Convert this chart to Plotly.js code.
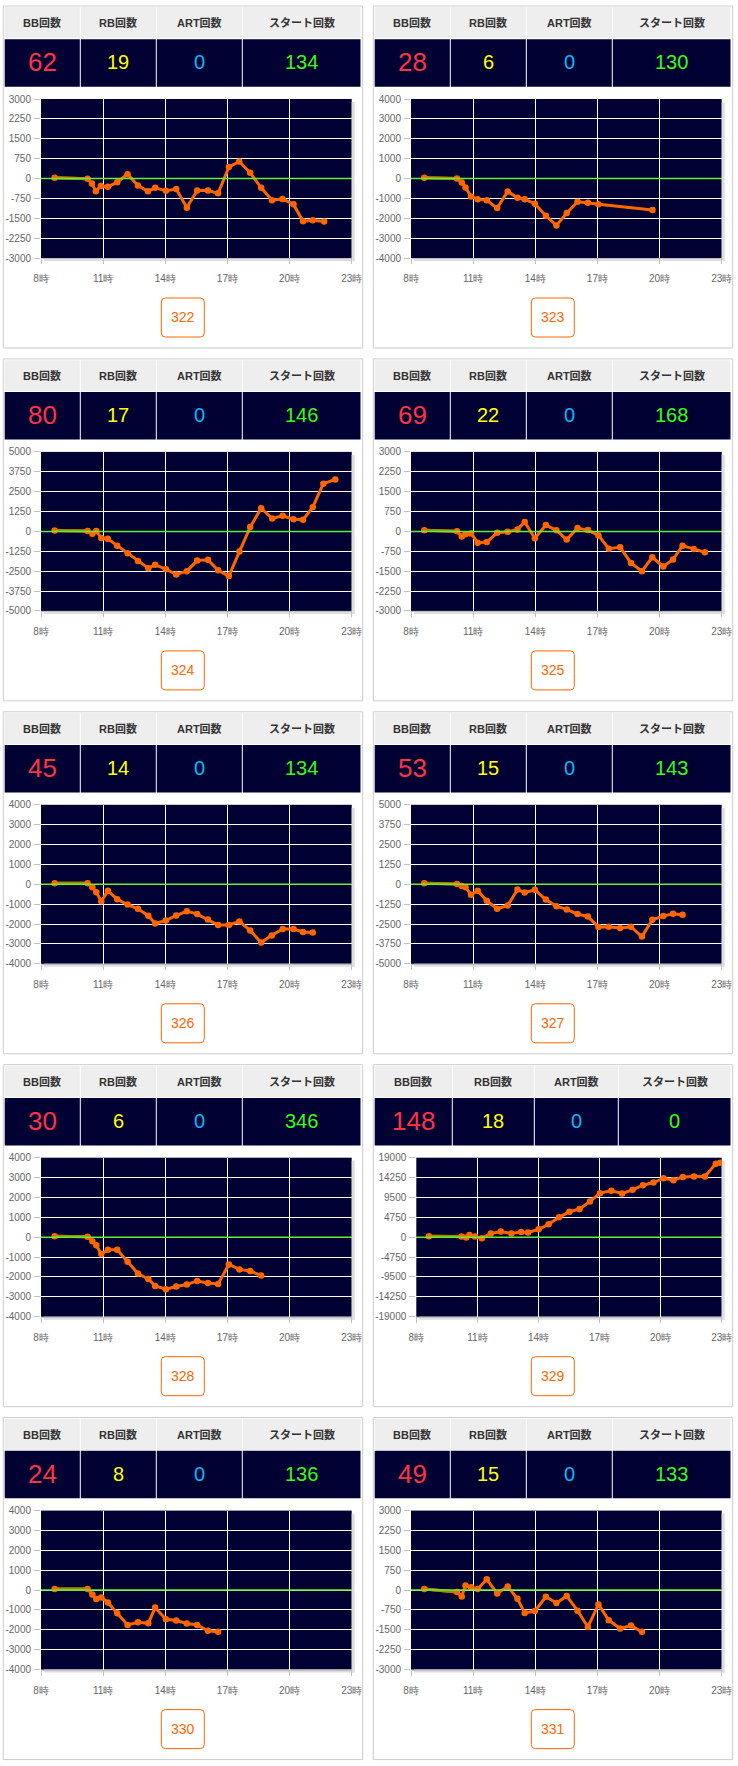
<!DOCTYPE html>
<html><head><meta charset="utf-8">
<script src="https://cdn.plot.ly/plotly-3.0.1.min.js"></script>
<style>html,body{margin:0;padding:0;background:#fff;}#chart{width:738px;height:1766px;}</style>
</head><body><div id="chart"></div>
<script>
// ---------- data ----------
const machineNos = [322, 323, 324, 325, 326, 327, 328, 329, 330, 331];
const bbCounts = [62, 28, 80, 69, 45, 53, 30, 148, 24, 49];
const rbCounts = [19, 6, 17, 22, 14, 15, 6, 18, 8, 15];
const artCounts = [0, 0, 0, 0, 0, 0, 0, 0, 0, 0];
const startCounts = [134, 130, 146, 168, 134, 143, 346, 0, 136, 133];
const headerLabels = ['BB回数', 'RB回数', 'ART回数', 'スタート回数'];
const xTickVals = [8, 11, 14, 17, 20, 23];
const xTickLabels = ['8時', '11時', '14時', '17時', '20時', '23時'];
const yMax = [3000, 4000, 5000, 3000, 4000, 5000, 4000, 19000, 4000, 3000];

const hours322 = [8.66,10.25,10.46,10.65,10.89,11.23,11.68,12.18,12.68,13.16,13.51,14.03,14.53,15.04,15.54,16.06,16.55,17.07,17.57,18.10,18.63,19.15,19.66,20.19,20.65,21.12,21.67];
const diff322 = [30,-10,-190,-480,-280,-315,-140,165,-265,-480,-350,-465,-400,-1100,-455,-455,-555,430,640,215,-350,-820,-770,-970,-1615,-1575,-1625];
const hours323 = [8.64,10.22,10.45,10.63,10.90,11.22,11.66,12.16,12.67,13.14,13.49,13.98,14.51,15.02,15.52,16.04,16.54,17.05,19.66];
const diff323 = [35,0,-200,-450,-900,-1050,-1100,-1490,-650,-970,-1040,-1270,-1875,-2360,-1740,-1170,-1220,-1290,-1590];
const hours324 = [8.66,10.25,10.48,10.67,10.91,11.22,11.68,12.18,12.68,13.18,13.51,14.03,14.53,15.04,15.54,16.06,16.55,17.07,17.58,18.10,18.63,19.16,19.67,20.19,20.65,21.12,21.63,22.21];
const diff324 = [60,20,-145,20,-415,-460,-895,-1375,-1855,-2310,-2100,-2375,-2710,-2500,-1835,-1790,-2440,-2810,-1270,270,1460,810,980,770,730,1520,3000,3270];
const hours325 = [8.64,10.22,10.45,10.63,10.90,11.22,11.66,12.16,12.67,13.14,13.49,13.98,14.51,15.02,15.52,16.04,16.54,17.05,17.55,18.10,18.62,19.15,19.65,20.18,20.65,21.11,21.65,22.19];
const diff325 = [40,10,-190,-110,-75,-425,-400,-50,-15,75,350,-260,240,40,-310,125,50,-150,-650,-600,-1190,-1500,-975,-1325,-1060,-540,-660,-790];
const hours326 = [8.66,10.25,10.48,10.67,10.91,11.23,11.68,12.18,12.68,13.18,13.51,14.03,14.53,15.04,15.54,16.06,16.55,17.07,17.58,18.10,18.63,19.14,19.67,20.19,20.65,21.12];
const diff326 = [50,50,-150,-400,-850,-330,-750,-1020,-1230,-1580,-1970,-1820,-1570,-1350,-1500,-1770,-2050,-2050,-1870,-2330,-2930,-2570,-2250,-2250,-2400,-2420];
const hours327 = [8.64,10.22,10.45,10.63,10.90,11.22,11.66,12.16,12.67,13.14,13.49,13.98,14.51,15.02,15.52,16.04,16.54,17.05,17.55,18.10,18.62,19.15,19.65,20.18,20.65,21.11];
const diff327 = [60,20,-100,-190,-650,-400,-1040,-1540,-1330,-330,-520,-350,-960,-1375,-1580,-1875,-2020,-2690,-2670,-2750,-2670,-3290,-2230,-2000,-1850,-1920];
const hours328 = [8.66,10.25,10.48,10.67,10.91,11.23,11.68,12.18,12.68,13.18,13.51,14.03,14.53,15.04,15.54,16.06,16.55,17.07,17.58,18.10,18.63];
const diff328 = [50,20,-200,-400,-850,-630,-630,-1230,-1830,-2100,-2450,-2620,-2480,-2380,-2200,-2300,-2350,-1370,-1620,-1700,-1930];
const hours329 = [8.62,10.22,10.45,10.61,10.88,11.22,11.66,12.15,12.67,13.15,13.49,14.01,14.50,15.01,15.52,16.02,16.53,17.02,17.58,18.11,18.62,19.13,19.65,20.14,20.63,21.09,21.64,22.18,22.71,22.93];
const diff329 = [240,160,-80,550,160,-240,870,1350,870,1270,1110,1900,3090,4750,6100,6730,8550,10530,11080,10450,11320,12430,13060,14090,13620,14410,14490,14490,17580,17810];
const hours330 = [8.66,10.25,10.48,10.67,10.91,11.23,11.68,12.18,12.68,13.18,13.51,14.03,14.53,15.04,15.54,16.06,16.55];
const diff330 = [50,50,-220,-450,-370,-620,-1170,-1750,-1620,-1670,-880,-1470,-1530,-1680,-1750,-2050,-2100];
const hours331 = [8.64,10.22,10.45,10.63,10.90,11.22,11.66,12.16,12.67,13.14,13.49,13.98,14.51,15.02,15.52,16.04,16.54,17.05,17.55,18.10,18.62,19.15];
const diff331 = [40,-75,-240,175,110,40,410,-125,140,-325,-860,-790,-250,-490,-225,-775,-1390,-540,-1140,-1450,-1340,-1575];

const hoursList = [hours322, hours323, hours324, hours325, hours326, hours327, hours328, hours329, hours330, hours331];
const diffList = [diff322, diff323, diff324, diff325, diff326, diff327, diff328, diff329, diff330, diff331];

// ---------- layout helpers ----------
const W = 738, H = 1766;
const px = x => x / W;
const py = y => 1 - y / H;
const NAVY = '#000033';
const ORANGE = '#ff6600';
const TICKFONT = {family: 'Liberation Sans, Arial, sans-serif', size: 10, color: '#666666'};
const panelLeft = [3.3, 373.3];
const PANEL_W = 359.4, PANEL_H = 342, ROW_PITCH = 352.9;

function rect(x0, y0, x1, y1, fill, line) {
  return {type: 'rect', xref: 'paper', yref: 'paper', layer: 'below',
    x0: px(x0), x1: px(x1), y0: py(y1), y1: py(y0),
    fillcolor: fill, line: line || {width: 0}};
}
function roundRect(x0, y0, x1, y1, r, color) {
  const P = (x, y) => px(x) + ',' + py(y);
  const path = 'M' + P(x0 + r, y0) + ' L' + P(x1 - r, y0) + ' Q' + P(x1, y0) + ' ' + P(x1, y0 + r) +
    ' L' + P(x1, y1 - r) + ' Q' + P(x1, y1) + ' ' + P(x1 - r, y1) +
    ' L' + P(x0 + r, y1) + ' Q' + P(x0, y1) + ' ' + P(x0, y1 - r) +
    ' L' + P(x0, y0 + r) + ' Q' + P(x0, y0) + ' ' + P(x0 + r, y0) + ' Z';
  return {type: 'path', xref: 'paper', yref: 'paper', layer: 'below', path: path,
    fillcolor: 'rgba(0,0,0,0)', line: {color: color, width: 1}};
}

const traces = [];
const shapes = [];
const annotations = [];
const layout = {
  width: W, height: H, margin: {l: 0, r: 0, t: 0, b: 0},
  paper_bgcolor: '#ffffff', plot_bgcolor: NAVY, showlegend: false,
  shapes: shapes, annotations: annotations
};

const colsNormal = [1.4, 77, 153, 239, 357.7];
const colsWide = [1.4, 79, 161, 245, 357.7];
const numColors = ['#ff3344', '#ffff00', '#00bbff', '#33ff11'];
const numSizes = [26, 20, 20, 20];

for (let i = 0; i < machineNos.length; i++) {
  const r = Math.floor(i / 2), c = i % 2;
  const pl = panelLeft[c], pt = 6 + r * ROW_PITCH;
  const s = i === 0 ? '' : String(i + 1);
  const R = yMax[i];

  // panel border (no fill so the plot background stays visible)
  shapes.push(rect(pl, pt, pl + PANEL_W, pt + PANEL_H, 'rgba(0,0,0,0)', {color: '#cccccc', width: 1}));

  // header table
  const cols = (i === 7) ? colsWide : colsNormal;
  const vals = [bbCounts[i], rbCounts[i], artCounts[i], startCounts[i]];
  for (let k = 0; k < 4; k++) {
    const cx0 = pl + cols[k] + (k === 0 ? 0 : 0.5), cx1 = pl + cols[k + 1] - 0.5;
    shapes.push(rect(cx0, pt + 1.3, cx1, pt + 32.3, '#eeeeee'));
    shapes.push(rect(cx0, pt + 33.2, cx1, pt + 80.7, NAVY));
    const cxm = (cx0 + cx1) / 2;
    annotations.push({xref: 'paper', yref: 'paper', x: px(cxm), y: py(pt + 16.6),
      text: headerLabels[k], showarrow: false, xanchor: 'center', yanchor: 'middle',
      font: {family: 'Liberation Sans, Noto Sans CJK JP, sans-serif', size: 11, color: '#333333', weight: 700}});
    annotations.push({xref: 'paper', yref: 'paper', x: px(cxm), y: py(pt + 56),
      text: String(vals[k]), showarrow: false, xanchor: 'center', yanchor: 'middle',
      font: {family: 'Liberation Sans, Arial, sans-serif', size: numSizes[k], color: numColors[k]}});
  }

  // plot area
  const x0 = pl + (i === 7 ? 43 : 37.7), x1 = pl + 348.4;
  const y0 = pt + 93, y1 = pt + 252;
  // shadow strips
  shapes.push(rect(x1, y0 + 3, x1 + 3, y1 + 3, '#dedede'));
  shapes.push(rect(x0 + 3, y1, x1 + 3, y1 + 3, '#dedede'));

  const yt = [];
  for (let k = -4; k <= 4; k++) yt.push(k * R / 4);
  layout['xaxis' + s] = {
    domain: [px(x0), px(x1)], anchor: 'y' + s, range: [8, 23],
    tickvals: xTickVals, ticktext: xTickLabels, tickfont: TICKFONT,
    showgrid: true, gridcolor: '#ffffff', gridwidth: 1, zeroline: false,
    showline: true, linecolor: '#c0c0c0', linewidth: 1,
    ticks: 'outside', ticklen: 5, tickcolor: '#c0c0c0', ticklabelstandoff: 6, fixedrange: true
  };
  layout['yaxis' + s] = {
    domain: [py(y1), py(y0)], anchor: 'x' + s, range: [-R, R],
    tickvals: yt, ticktext: yt.map(v => String(v)), tickfont: TICKFONT,
    showgrid: true, gridcolor: '#ffffff', gridwidth: 1, zeroline: false, showline: false,
    ticks: 'outside', ticklen: 6, tickcolor: '#c0c0c0', ticklabelstandoff: 1, fixedrange: true
  };

  const hx = hoursList[i], dy = diffList[i];
  traces.push({type: 'scatter', mode: 'lines', x: hx, y: dy, xaxis: 'x' + s, yaxis: 'y' + s,
    line: {color: ORANGE, width: 3}, hoverinfo: 'skip'});
  traces.push({type: 'scatter', mode: 'lines', x: hx.slice(0, 2), y: dy.slice(0, 2), xaxis: 'x' + s, yaxis: 'y' + s,
    line: {color: '#9c8c00', width: 3}, hoverinfo: 'skip'});
  traces.push({type: 'scatter', mode: 'markers', x: hx, y: dy, xaxis: 'x' + s, yaxis: 'y' + s,
    marker: {color: ORANGE, size: 6.5}, hoverinfo: 'skip'});

  // zero line above the series
  shapes.push({type: 'line', xref: 'x' + s, yref: 'y' + s, layer: 'above', x0: 8, x1: 23, y0: 0, y1: 0,
    line: {color: '#66ee33', width: 1.5}});

  // machine number button
  shapes.push(roundRect(pl + 158, pt + 292, pl + 201, pt + 331, 4, ORANGE));
  annotations.push({xref: 'paper', yref: 'paper', x: px(pl + 179.5), y: py(pt + 311.5),
    text: String(machineNos[i]), showarrow: false, xanchor: 'center', yanchor: 'middle',
    font: {family: 'Liberation Sans, Arial, sans-serif', size: 14, color: ORANGE}});
}

Plotly.newPlot('chart', traces, layout, {staticPlot: true, displayModeBar: false});
</script>
</body></html>
